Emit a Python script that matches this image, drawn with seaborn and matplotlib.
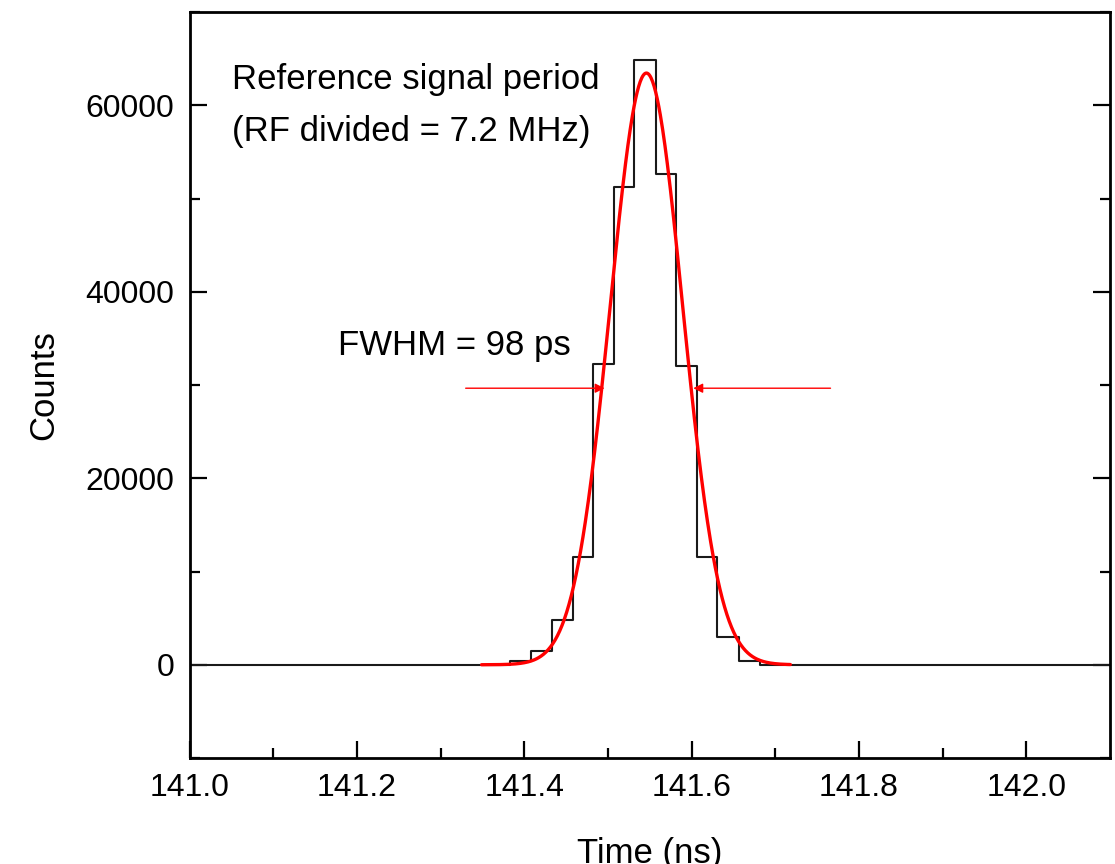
import seaborn as sns
import matplotlib.pyplot as plt
import numpy as np

# histogram bins (ns) and counts
bin_edges = [141.0, 141.3834, 141.4075, 141.4331, 141.4580, 141.4825, 141.5077,
             141.5314, 141.5570, 141.5819, 141.6063, 141.6300, 141.6564, 141.6813, 142.1]
counts = [0, 350, 1450, 4750, 11580, 32260, 51230, 64810, 52590, 32090, 11580, 3030, 430, 0]

# gaussian fit parameters
fit_center = 141.546
fit_amp = 63460
fit_fwhm = 0.102
fit_range = (141.349, 141.718)

# FWHM arrows
arrow_y = 29660
arrow_left = (141.330, 141.496)
arrow_right = (141.766, 141.602)

sns.set_style('ticks')
plt.rcParams['font.family'] = ['Liberation Sans', 'DejaVu Sans']
plt.rcParams['text.color'] = 'black'
plt.rcParams['axes.labelcolor'] = 'black'

fig = plt.figure(figsize=(11.15, 8.64), dpi=100)
ax = fig.add_axes([0.170, 0.1227, 0.8255, 0.8633])

centers = [(a + b) / 2 for a, b in zip(bin_edges[:-1], bin_edges[1:])]
sns.histplot(x=centers, weights=counts, bins=bin_edges, element='step', fill=False,
             color='#1a1a1a', linewidth=1.5, ax=ax)

sigma = fit_fwhm / (2 * np.sqrt(2 * np.log(2)))
t = np.linspace(fit_range[0], fit_range[1], 400)
fit = fit_amp * np.exp(-0.5 * ((t - fit_center) / sigma) ** 2)
sns.lineplot(x=t, y=fit, color='red', linewidth=2.4, ax=ax)

for start, tip in (arrow_left, arrow_right):
    ax.annotate('', xy=(tip, arrow_y), xytext=(start, arrow_y),
                arrowprops=dict(arrowstyle='-|>', color='red', lw=1.0,
                                mutation_scale=14, shrinkA=0, shrinkB=0))

ax.text(141.270, 62780, 'Reference signal period', fontsize=25, ha='center', va='center')
ax.text(141.265, 57220, '(RF divided = 7.2 MHz)', fontsize=25, ha='center', va='center')
ax.text(141.1775, 34220, 'FWHM = 98 ps', fontsize=25, ha='left', va='center')

ax.set_xlim(141.0, 142.1)
ax.set_ylim(-10000, 70000)
ax.set_xticks([141.0, 141.2, 141.4, 141.6, 141.8, 142.0])
ax.set_xticks(np.arange(141.1, 142.1, 0.2), minor=True)
ax.set_yticks([0, 20000, 40000, 60000])
ax.set_yticks([-10000, 10000, 30000, 50000, 70000], minor=True)
ax.set_xticklabels(['141.0', '141.2', '141.4', '141.6', '141.8', '142.0'])

ax.tick_params(which='both', direction='in', width=1.6, colors='black',
               labelsize=23, right=True, top=False)
ax.tick_params(which='major', length=12, pad=11)
ax.tick_params(which='minor', length=7)
for s in ax.spines.values():
    s.set_visible(True)
    s.set_linewidth(2.0)
    s.set_color('black')

ax.set_xlabel('Time (ns)', fontsize=25, labelpad=24,
              family=['Liberation Sans Narrow', 'Liberation Sans'])
ax.set_ylabel('Counts', fontsize=25, labelpad=18,
              family=['Liberation Sans Narrow', 'Liberation Sans'])

fig.savefig('out.png', dpi=100)
